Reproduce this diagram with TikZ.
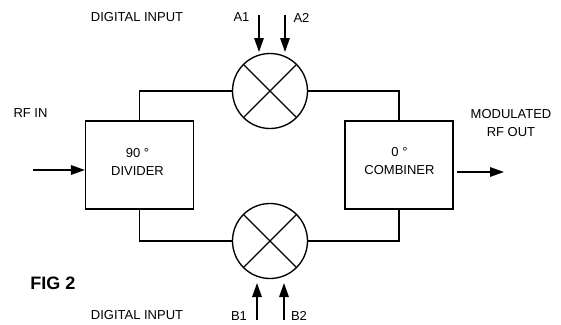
\documentclass[tikz,border=0pt]{standalone}
\usepackage{fontspec}
\setmainfont{Liberation Sans}
\usetikzlibrary{arrows.meta}
\tikzset{x=1pt,y=-1pt,
 wire/.style={line width=1.35pt,line join=miter},
 arrowline/.style={line width=1.6pt,-{Triangle[length=14pt,width=9.5pt]}},
 block/.style={draw,line width=1.5pt,minimum width=108pt,minimum height=88pt,inner sep=0pt},
 mixer/.style={draw,circle,line width=1.35pt,minimum size=75pt,inner sep=0pt},
 lbl/.style={inner sep=0pt,align=center,font=\fontsize{13}{18}\selectfont}}
\begin{document}
\begin{tikzpicture}
\useasboundingbox (0,0) rectangle (561,324);
\node[block] (div) at (139.7,165) {};
\node[block] (comb) at (399,165) {};
\node[lbl] (tdiv) at (137.5,161.5) {90 °\\DIVIDER};
\node[lbl] (tcomb) at (399.5,161.5) {0 °\\COMBINER};
\node[mixer] (mt) at (270,91) {};
\node[mixer] (mb) at (270,241) {};
\draw[wire] (mt.45) -- (mt.225) (mt.135) -- (mt.315);
\draw[wire] (mb.45) -- (mb.225) (mb.135) -- (mb.315);
\draw[wire] (mt.west) -| (div.north);
\draw[wire] (mb.west) -| (div.south);
\draw[wire] (mt.east) -| (comb.north);
\draw[wire] (mb.east) -| (comb.south);
\coordinate (in) at (33,170);
\coordinate (out) at (504,172);
\coordinate (a1) at (259,15);
\coordinate (a1e) at (259,52);
\coordinate (a2) at (285,15);
\coordinate (a2e) at (285,52);
\coordinate (b1) at (257,320);
\coordinate (b1e) at (257,283);
\coordinate (b2) at (284,320);
\coordinate (b2e) at (284,283);
\coordinate (dive) at (div.west |- in);
\coordinate (combs) at ([xshift=3pt]comb.east |- out);
\draw[arrowline] (in) -- (dive);
\draw[arrowline] (combs) -- (out);
\draw[arrowline] (a1) -- (a1e);
\draw[arrowline] (a2) -- (a2e);
\draw[arrowline] (b1) -- (b1e);
\draw[arrowline] (b2) -- (b2e);
\node[lbl] (t1) at (137,17.5) {DIGITAL INPUT};
\node[lbl] (t2) at (137,315.5) {DIGITAL INPUT};
\node[lbl] (ta1) at (241.5,17.5) {A1};
\node[lbl] (ta2) at (301.5,17.5) {A2};
\node[lbl] (tb1) at (239,316) {B1};
\node[lbl] (tb2) at (299,316) {B2};
\node[lbl] (trf) at (30.5,113) {RF IN};
\node[lbl] (tout) at (511,123.5) {MODULATED\\RF OUT};
\node[lbl,font=\bfseries\fontsize{18}{20}\selectfont] (fig) at (53,283.5) {FIG 2};
\end{tikzpicture}
\end{document}
